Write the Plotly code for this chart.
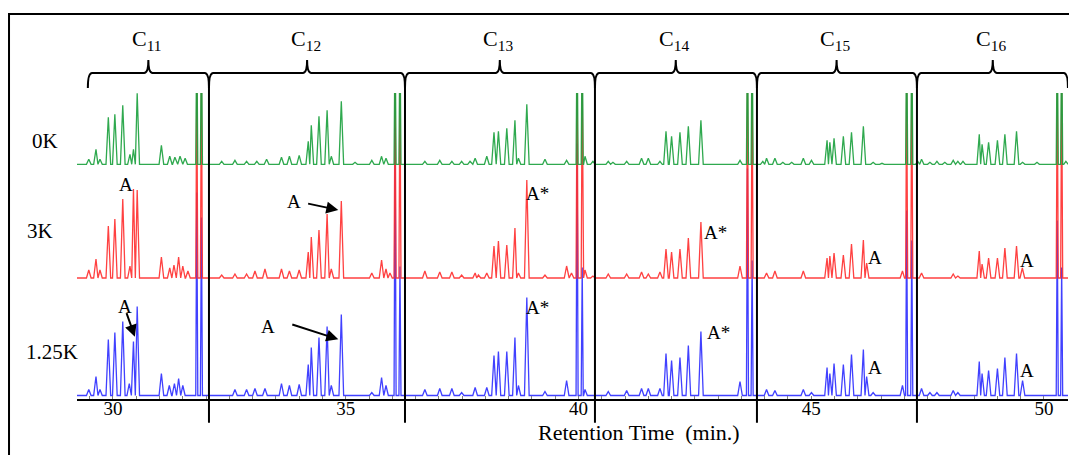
import plotly.graph_objects as go

# ---------------- data (retention time in min, peak height in detector units) ----------------
green_rt = [29.48, 29.635, 29.72, 29.90, 30.04, 30.21, 30.365, 30.44, 30.52, 31.04, 31.22, 31.33, 31.44, 31.55, 31.80, 31.90,
            32.335, 32.62, 32.87, 33.09, 33.30, 33.62, 33.79, 34.00, 34.195, 34.26, 34.425, 34.60, 34.69, 34.905, 35.20, 35.56, 35.77, 35.865, 36.06, 36.165,
            36.70, 37.02, 37.28, 37.49, 37.67, 37.78, 38.03, 38.185, 38.28, 38.46, 38.635, 38.71, 38.89, 39.28, 39.745, 39.97, 40.08, 40.14, 40.31,
            40.64, 40.74, 41.035, 41.355, 41.50, 41.75, 41.88, 42.00, 42.18, 42.36, 42.63, 43.47, 43.63, 43.73, 43.96,
            44.04, 44.22, 44.39, 44.58, 44.83, 45.005, 45.34, 45.40, 45.49, 45.69, 45.865, 46.12, 46.33, 46.52, 47.05, 47.16, 47.29,
            47.37, 47.55, 47.70, 47.87, 48.05, 48.15, 48.26, 48.61, 48.67, 48.81, 49.00, 49.16, 49.41, 49.54, 49.85, 50.285, 50.38, 50.47]
green_h = [5, 15, 5, 47, 50, 59, 10, 15, 71, 19, 8, 7, 8, 6, 140, 140,
           3, 4, 3, 3, 5, 7, 8, 9, 23, 39, 48, 54, 8, 63, 2, 4, 8, 6, 140, 140,
           3, 4, 3, 3, 3, 6, 8, 32, 33, 36, 44, 6, 60, 5, 4, 140, 140, 8, 3,
           3, 2, 3, 6, 6, 3, 33, 28, 32, 38, 44, 4, 140, 140, 3,
           6, 6, 2, 2, 6, 4, 24, 22, 26, 28, 32, 38, 2, 1, 140, 140, 3,
           5, 2, 3, 2, 4, 3, 3, 30, 20, 22, 24, 30, 33, 2, 2, 140, 140, 3]

red_rt = [29.48, 29.635, 29.72, 29.90, 30.04, 30.21, 30.365, 30.44, 30.52, 31.04, 31.22, 31.31, 31.41, 31.50, 31.61, 31.80, 31.90,
          32.335, 32.62, 32.87, 33.05, 33.265, 33.62, 33.79, 34.00, 34.195, 34.26, 34.425, 34.60, 34.69, 34.905, 35.56, 35.77, 35.865, 35.95, 36.06, 36.165,
          36.70, 37.02, 37.28, 37.49, 37.78, 37.85, 38.03, 38.185, 38.28, 38.46, 38.635, 38.71, 38.89, 39.28, 39.745, 39.85, 39.97, 40.08, 40.14, 40.31,
          40.64, 41.035, 41.355, 41.50, 41.75, 41.88, 42.00, 42.18, 42.36, 42.63, 43.47, 43.63, 43.73,
          44.04, 44.22, 44.83, 45.34, 45.40, 45.49, 45.69, 45.865, 46.12, 46.19, 46.96, 47.05, 47.16,
          47.37, 48.05, 48.15, 48.61, 48.67, 48.81, 49.00, 49.16, 49.41, 49.535, 50.285, 50.38]
red_h = [8, 19, 8, 52, 59, 79, 12, 89, 88, 21, 10, 13, 21, 12, 7, 200, 200,
         3, 4, 4, 7, 9, 9, 7, 8, 26, 41, 48, 64, 9, 77, 5, 18, 9, 5, 200, 200,
         7, 6, 6, 3, 5, 3, 5, 32, 37, 33, 50, 5, 98, 3, 12, 5, 200, 200, 8, 2,
         4, 4, 6, 4, 6, 29, 26, 29, 40, 56, 12, 200, 200,
         5, 7, 7, 20, 22, 25, 23, 34, 38, 15, 7, 200, 200,
         5, 4, 2, 27, 14, 20, 20, 30, 32, 10, 200, 200]

blue_rt = [29.48, 29.635, 29.72, 29.90, 30.04, 30.21, 30.35, 30.44, 30.52, 31.04, 31.21, 31.32, 31.41, 31.50, 31.80, 31.90,
           32.62, 32.87, 33.05, 33.265, 33.62, 33.79, 34.00, 34.195, 34.26, 34.425, 34.60, 34.69, 34.905, 35.56, 35.77, 35.865, 36.06, 36.165,
           36.70, 37.02, 37.28, 37.49, 37.78, 38.03, 38.185, 38.28, 38.46, 38.635, 38.71, 38.89, 39.28, 39.745, 39.97, 40.08, 40.14,
           40.64, 41.035, 41.355, 41.50, 41.75, 41.88, 42.00, 42.18, 42.36, 42.63, 43.47, 43.63, 43.73,
           44.04, 44.22, 44.83, 45.005, 45.34, 45.40, 45.49, 45.69, 45.865, 46.12, 46.19, 46.33, 46.96, 47.05, 47.16,
           47.37, 47.55, 47.70, 48.05, 48.15, 48.61, 48.67, 48.81, 49.00, 49.16, 49.41, 49.54, 50.285, 50.38]
blue_h = [6, 19, 6, 56, 63, 74, 12, 54, 89, 22, 10, 12, 17, 10, 203, 178,
          6, 6, 7, 7, 12, 10, 11, 31, 48, 58, 69, 10, 81, 3, 18, 10, 268, 129,
          6, 7, 7, 3, 8, 8, 40, 44, 44, 58, 10, 98, 4, 15, 252, 128, 6,
          4, 5, 7, 7, 7, 42, 35, 38, 50, 64, 14, 227, 135,
          6, 5, 6, 3, 28, 22, 32, 31, 41, 46, 19, 3, 10, 185, 155,
          7, 3, 3, 5, 3, 34, 22, 25, 27, 38, 42, 15, 175, 128]

sample_labels = ["0K", "3K", "1.25K"]
carbon_labels = ["C<sub>11</sub>", "C<sub>12</sub>", "C<sub>13</sub>", "C<sub>14</sub>", "C<sub>15</sub>", "C<sub>16</sub>"]
segment_bounds = [29.46, 32.062, 36.273, 40.354, 43.834, 47.271, 50.515]
bracket_tips = [30.76, 34.17, 38.31, 42.09, 45.545, 48.90]
tick_vals = [30, 35, 40, 45, 50]

# ---------------- layout constants ----------------
X_MIN, X_MAX = 29.227, 50.516
Y_MAX = 306
OFF_GREEN, OFF_RED, OFF_BLUE = 234.7, 121, 3.5
GREEN, RED, BLUE = "rgb(25,160,60)", "rgb(255,45,45)", "rgb(45,45,255)"
SERIF = "Liberation Serif, Times New Roman, serif"


def chromatogram(rts, hs, offset):
    xs, ys = [X_MIN], [offset]
    n = len(rts)
    for i in range(n):
        t, h = rts[i], hs[i]
        w = 0.022 if h > 120 else 0.05
        left, right = t - w, t + w
        if i > 0:
            left = max(left, (rts[i - 1] + t) / 2)
        if i < n - 1:
            right = min(right, (t + rts[i + 1]) / 2)
        xs += [left, t, right]
        ys += [offset, offset + h, offset]
    xs.append(X_MAX)
    ys.append(offset)
    return xs, ys


fig = go.Figure()
for name, rts, hs, off, col in [("1.25K", blue_rt, blue_h, OFF_BLUE, BLUE),
                                ("3K", red_rt, red_h, OFF_RED, RED),
                                ("0K", green_rt, green_h, OFF_GREEN, GREEN)]:
    xs, ys = chromatogram(rts, hs, off)
    fig.add_trace(go.Scatter(x=xs, y=ys, mode="lines", name=name,
                             line=dict(color=col, width=1.3), opacity=0.9,
                             hoverinfo="skip", showlegend=False))

shapes = []
# outer frame
shapes.append(dict(type="rect", xref="paper", yref="paper", x0=-0.0686, x1=1.02, y0=-0.3, y1=1.258,
                   line=dict(color="black", width=2), fillcolor="rgba(0,0,0,0)"))
# separators
for b in segment_bounds[1:-1]:
    shapes.append(dict(type="line", xref="x", yref="paper", x0=b, x1=b, y0=-0.078, y1=1.0163,
                       line=dict(color="black", width=2)))

# curly brackets
y_end, y_bar, y_tip = 1.0163, 1.0654, 1.1078
d = 0.09
for i in range(6):
    x0, x1, xc = segment_bounds[i], segment_bounds[i + 1], bracket_tips[i]
    path = (f"M {x0},{y_end} Q {x0},{y_bar} {x0 + d},{y_bar} L {xc - d},{y_bar} "
            f"Q {xc},{y_bar} {xc},{y_tip} Q {xc},{y_bar} {xc + d},{y_bar} "
            f"L {x1 - d},{y_bar} Q {x1},{y_bar} {x1},{y_end}")
    shapes.append(dict(type="path", xref="x", yref="paper", path=path,
                       line=dict(color="black", width=2)))

annotations = []
for i, lab in enumerate(carbon_labels):
    annotations.append(dict(x=bracket_tips[i] - 0.03, y=1.122, xref="x", yref="paper", text=lab,
                            showarrow=False, xanchor="center", yanchor="bottom",
                            font=dict(family=SERIF, size=22, color="black")))

row_y = [1.0 - (141 - 93) / 306, 1.0 - (231 - 93) / 306, 1.0 - (352 - 93) / 306]
row_x = [-0.0324, -0.0372, -0.0248]
for lab, yy, xx in zip(sample_labels, row_y, row_x):
    annotations.append(dict(x=xx, y=yy, xref="paper", yref="paper", text=lab, showarrow=False,
                            xanchor="center", yanchor="middle",
                            font=dict(family=SERIF, size=21, color="black")))

annotations.append(dict(x=41.30, y=-0.11, xref="x", yref="paper", text="Retention Time  (min.)",
                        showarrow=False, xanchor="center", yanchor="middle",
                        font=dict(family=SERIF, size=22, color="black")))

# peak labels
peak_labels = [("A", 30.27, 215), ("A", 30.26, 93), ("A", 33.89, 198), ("A", 33.34, 73),
               ("A*", 39.13, 206), ("A*", 39.13, 92), ("A*", 42.95, 167), ("A*", 43.00, 67),
               ("A", 46.37, 142), ("A", 46.37, 32), ("A", 49.645, 139), ("A", 49.645, 29)]
for txt, xx, yy in peak_labels:
    annotations.append(dict(x=xx, y=yy, xref="x", yref="y", text=txt, showarrow=False,
                            xanchor="center", yanchor="middle",
                            font=dict(family=SERIF, size=19, color="black")))

arrows = [((30.28, 87.3), (30.47, 62.3)), ((34.16, 195.7), (34.84, 189)), ((33.82, 75), (34.84, 59.7))]
for (tx, ty), (hx, hy) in arrows:
    annotations.append(dict(x=hx, y=hy, ax=tx, ay=ty, xref="x", yref="y", axref="x", ayref="y",
                            text="", showarrow=True, arrowhead=2, arrowsize=1.2, arrowwidth=2,
                            arrowcolor="black"))

fig.update_layout(
    width=1069, height=455, autosize=False,
    margin=dict(l=77, r=1, t=93, b=56, pad=0),
    plot_bgcolor="white", paper_bgcolor="white",
    shapes=shapes, annotations=annotations,
    xaxis=dict(range=[X_MIN, X_MAX], showline=True, linecolor="black", linewidth=2,
               showgrid=False, zeroline=False, tickvals=tick_vals, ticks="inside", ticklen=3,
               tickcolor="gray", tickfont=dict(family=SERIF, size=19, color="black"),
               ticklabelstandoff=-9,
               minor=dict(dtick=0.5, ticks="inside", ticklen=3, tickcolor="gray")),
    yaxis=dict(range=[0, Y_MAX], visible=False, showgrid=False, zeroline=False),
)

fig.write_html("out.html", config={"displayModeBar": False},
               post_script="document.body.style.margin='0';document.body.style.overflow='hidden';")
